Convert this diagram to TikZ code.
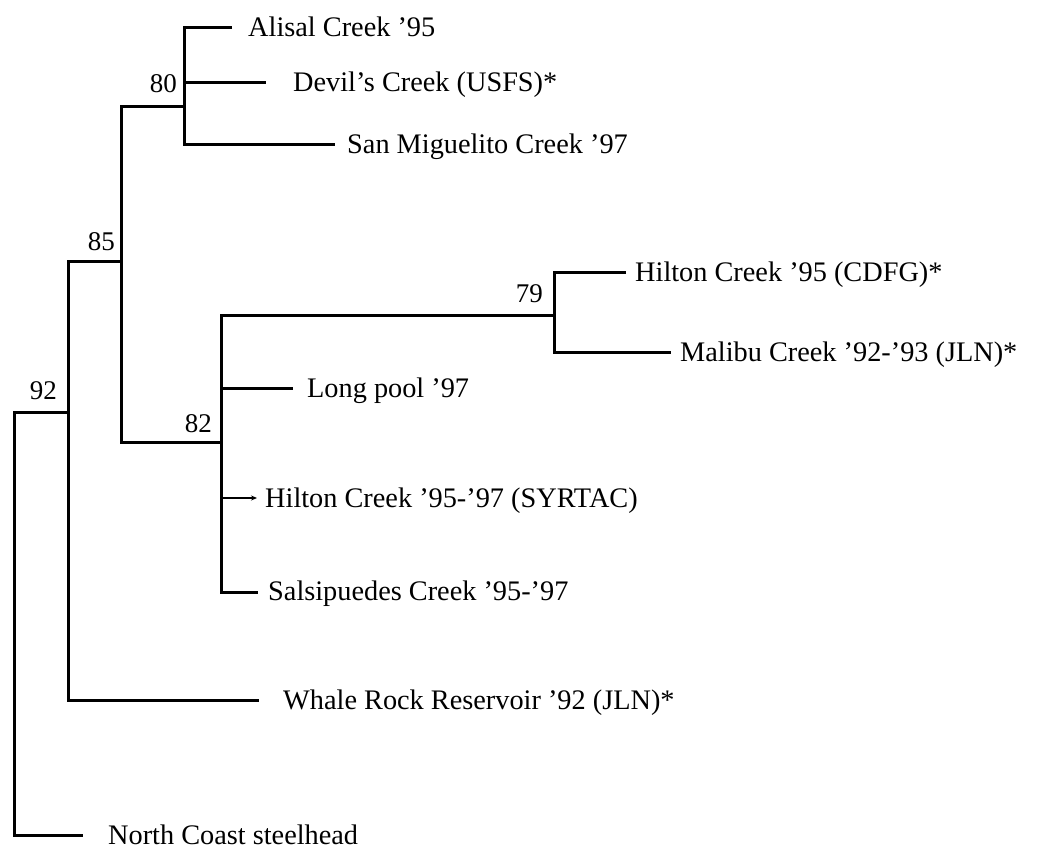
\documentclass[tikz,border=0pt]{standalone}
\usepackage{fontspec}
\setmainfont{Liberation Serif}
\usetikzlibrary{arrows.meta}
\begin{document}
\begin{tikzpicture}[x=1pt,y=-1pt,
  br/.style={line width=3pt},
  thinbr/.style={line width=1.5pt,-{Stealth[length=6pt,width=5pt]}},
  taxon/.style={anchor=base west,inner sep=0pt,font=\fontsize{28.3}{32}\selectfont},
  boot/.style={anchor=base east,inner sep=0pt,font=\fontsize{27}{30}\selectfont}]
\useasboundingbox (0,0) rectangle (1037,850);
% internal nodes
\coordinate (root) at (14,624);
\coordinate (n92) at (68,413);
\coordinate (n85) at (121,262);
\coordinate (n80) at (184,107);
\coordinate (n82) at (221,443);
\coordinate (n79) at (554,316);
% branch tips
\coordinate (tAl) at (232,28);
\coordinate (tDe) at (266,83);
\coordinate (tSM) at (335,145);
\coordinate (tHC) at (626,273);
\coordinate (tMa) at (671,353);
\coordinate (tLP) at (293,389);
\coordinate (tHS) at (257,498);
\coordinate (tSa) at (258,592);
\coordinate (tWR) at (259,700);
\coordinate (tNC) at (83,835);
% labels
\node[taxon] (lAl) at (248,37) {Alisal Creek '95};
\node[taxon] (lDe) at (293,92) {Devil's Creek (USFS)*};
\node[taxon] (lSM) at (347,154) {San Miguelito Creek '97};
\node[taxon] (lHC) at (635,282) {Hilton Creek '95 (CDFG)*};
\node[taxon] (lMa) at (680,362) {Malibu Creek '92-'93 (JLN)*};
\node[taxon] (lLP) at (307,398) {Long pool '97};
\node[taxon] (lHS) at (265,507) {Hilton Creek '95-'97 (SYRTAC)};
\node[taxon] (lSa) at (268,600) {Salsipuedes Creek '95-'97};
\node[taxon] (lWR) at (283,709) {Whale Rock Reservoir '92 (JLN)*};
\node[taxon] (lNC) at (108,844) {North Coast steelhead};
% bootstrap values
\node[boot] (b80) at (177,93) {80};
\node[boot] (b85) at (115,251) {85};
\node[boot] (b92) at (57,400) {92};
\node[boot] (b82) at (212,433) {82};
\node[boot] (b79) at (543,303) {79};
% branches
\draw[br] (tAl) -| (n80) |- (tSM);
\draw[br] (n80 |- tDe) -- (tDe);
\draw[br] (tHC) -| (n79) |- (tMa);
\draw[br] (n79) -| (n82) |- (tSa);
\draw[br] (n82 |- tLP) -- (tLP);
\draw[thinbr] (n82 |- tHS) -- (tHS);
\draw[br] (n80) -| (n85) |- (n82);
\draw[br] (n85) -| (n92) |- (tWR);
\draw[br] (n92) -| (root) |- (tNC);
\end{tikzpicture}
\end{document}
